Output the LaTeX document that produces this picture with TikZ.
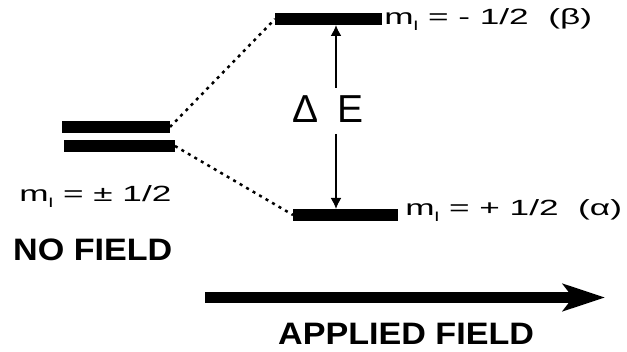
\documentclass[tikz,border=0pt]{standalone}
\usepackage{fontspec}
\setmainfont{Liberation Sans}
\usetikzlibrary{arrows.meta}
% m with a lowered small l
\newcommand{\mlsub}{m\raisebox{-6pt}{\fontsize{13}{13}\selectfont l}}
\begin{document}
\begin{tikzpicture}[x=1pt, y=-1pt,
  level/.style={line width=12pt},
  split/.style={line width=2.5pt, dash pattern=on 3pt off 4.5pt},
  gap/.style={line width=1.8pt, -{Latex[length=11pt,width=11pt]}},
  lbl/.style={font=\fontsize{22}{25}\selectfont, xscale=1.6, transform shape, inner sep=0pt, anchor=base west},
  head/.style={font=\bfseries\fontsize{31}{36}\selectfont, xscale=1.1, transform shape, inner sep=0pt, anchor=base west}]
  \useasboundingbox (0,0) rectangle (627,352);
  % levels without field (degenerate pair)
  \coordinate (n1a) at (62,127);
  \coordinate (n1b) at (170,127);
  \coordinate (n2a) at (64,146);
  \coordinate (n2b) at (175,146);
  \draw[level] (n1a) -- (n1b);
  \draw[level] (n2a) -- (n2b);
  % levels in the applied field
  \coordinate (beta1) at (275,19);
  \coordinate (beta2) at (382,19);
  \coordinate (alpha1) at (293,215);
  \coordinate (alpha2) at (398,215);
  \draw[level] (beta1) -- (beta2);
  \draw[level] (alpha1) -- (alpha2);
  % splitting
  \draw[split] (n1b) -- (beta1);
  \draw[split] (n2b) -- (alpha1);
  % energy gap
  \node[inner sep=0pt, anchor=base west, font=\fontsize{39}{44}\selectfont] (dE) at (292,123) {Δ\hspace{19pt}E};
  \coordinate (gapTop) at (336,88);
  \coordinate (gapBot) at (336,134);
  \coordinate (betaFoot) at (336,25);
  \coordinate (alphaHead) at (336,209);
  \draw[gap] (gapTop) -- (betaFoot);
  \draw[gap] (gapBot) -- (alphaHead);
  % labels
  \node[lbl] (lbeta) at (384,25) {\mlsub\ = - 1/2\ \ (β)};
  \node[lbl] (lalpha) at (405,216) {\mlsub\ = + 1/2\ \ (α)};
  \node[lbl] (lzero) at (19,202) {\mlsub\ = ± 1/2};
  \node[head] (nofield) at (13,261) {NO FIELD};
  % applied field
  \coordinate (fieldA) at (205,297.5);
  \coordinate (fieldB) at (605,297.5);
  \draw[line width=11pt, -{Stealth[length=42pt,width=27pt,inset=10pt]}] (fieldA) -- (fieldB);
  \node[head] (applied) at (278,345) {APPLIED FIELD};
\end{tikzpicture}
\end{document}
